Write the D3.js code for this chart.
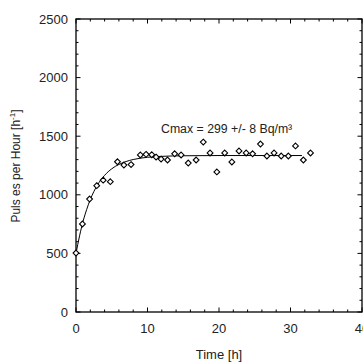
<!DOCTYPE html>
<html><head><meta charset="utf-8">
<script src="https://cdn.jsdelivr.net/npm/d3@7"></script>
<style>
html,body{margin:0;padding:0;background:#fff;}
svg{display:block;font-family:"Liberation Sans",Arial,sans-serif;}
</style></head>
<body>
<svg id="chart" width="363" height="362"></svg>
<script>
// Measured points
const times  = [0.0,0.9,1.9,2.9,3.8,4.8,5.8,6.7,7.7,9.0,9.8,10.6,11.2,11.9,12.8,13.8,14.7,15.7,16.8,17.8,18.75,19.7,20.8,21.8,22.8,23.8,24.7,25.8,26.7,27.7,28.7,29.7,30.7,31.8,32.8];
const pulses = [503,751,964,1078,1125,1112,1282,1254,1258,1340,1345,1342,1322,1305,1297,1350,1340,1271,1297,1450,1357,1195,1357,1280,1374,1357,1350,1433,1331,1357,1331,1331,1417,1297,1357];
// Fit curve
const fitTime  = [0,0.5,1,1.5,2,2.5,3,4,5,6,7,8,10,12,15,20,25,31.6];
const fitValue = [500,650,776,876,960,1028,1084,1166,1222,1259,1284,1301,1320,1328,1333,1335,1335,1335];
const xTicks = [0,10,20,30,40];
const yTicks = [0,500,1000,1500,2000,2500];
const annotation = "Cmax = 299 +/- 8 Bq/m³";

const svg = d3.select("#chart");
const L=76, R=362, T=19, B=312;
const x = d3.scaleLinear().domain([0,40]).range([L,R]);
const y = d3.scaleLinear().domain([0,2500]).range([B,T]);

// frame
svg.append("rect").attr("x",L).attr("y",T).attr("width",R-L).attr("height",B-T)
  .attr("fill","none").attr("stroke","#000").attr("stroke-width",1.3);

const tk = svg.append("g").attr("stroke","#000").attr("stroke-width",1);
d3.range(0,41,2).forEach(v=>{
  const len = v%10===0?4.5:2.5;
  tk.append("line").attr("x1",x(v)).attr("x2",x(v)).attr("y1",B).attr("y2",B-len);
  tk.append("line").attr("x1",x(v)).attr("x2",x(v)).attr("y1",T).attr("y2",T+len);
});
d3.range(0,2501,100).forEach(v=>{
  const len = v%500===0?4.5:2.5;
  tk.append("line").attr("y1",y(v)).attr("y2",y(v)).attr("x1",L).attr("x2",L+len);
  tk.append("line").attr("y1",y(v)).attr("y2",y(v)).attr("x1",R).attr("x2",R-len);
});

// tick labels
svg.append("g").selectAll("text").data(xTicks).join("text")
  .attr("x",d=>x(d)).attr("y",333).attr("text-anchor","middle")
  .attr("font-size",13).attr("fill","#222").text(d=>d);
svg.append("g").selectAll("text").data(yTicks).join("text")
  .attr("x",68).attr("y",d=>y(d)+4.5).attr("text-anchor","end")
  .attr("font-size",13).attr("fill","#222").text(d=>d);

// axis titles
svg.append("text").attr("x",219).attr("y",359).attr("text-anchor","middle")
  .attr("font-size",13).attr("fill","#222").text("Time [h]");
const yt = svg.append("text").attr("transform","translate(20,166) rotate(-90)")
  .attr("text-anchor","middle").attr("font-size",12).attr("fill","#222");
yt.append("tspan").text("Puls es per Hour [h");
yt.append("tspan").attr("font-size",8).attr("dy",-5).text("-1");
yt.append("tspan").attr("dy",5).text("]");

// fit curve
const line = d3.line().x((d,i)=>x(fitTime[i])).y((d,i)=>y(fitValue[i])).curve(d3.curveMonotoneX);
svg.append("path").attr("d",line(fitValue)).attr("fill","none").attr("stroke","#000").attr("stroke-width",1);

// points
const dh=2.9;
svg.append("g").selectAll("path").data(times).join("path")
  .attr("d",(d,i)=>{const cx=x(d), cy=y(pulses[i]);
    return `M${cx},${cy-dh}L${cx+dh},${cy}L${cx},${cy+dh}L${cx-dh},${cy}Z`;})
  .attr("fill","#fff").attr("stroke","#000").attr("stroke-width",1.1);

// annotation
svg.append("text").attr("x",161).attr("y",133).attr("font-size",12.3).attr("fill","#222").text(annotation);
</script>
</body></html>
